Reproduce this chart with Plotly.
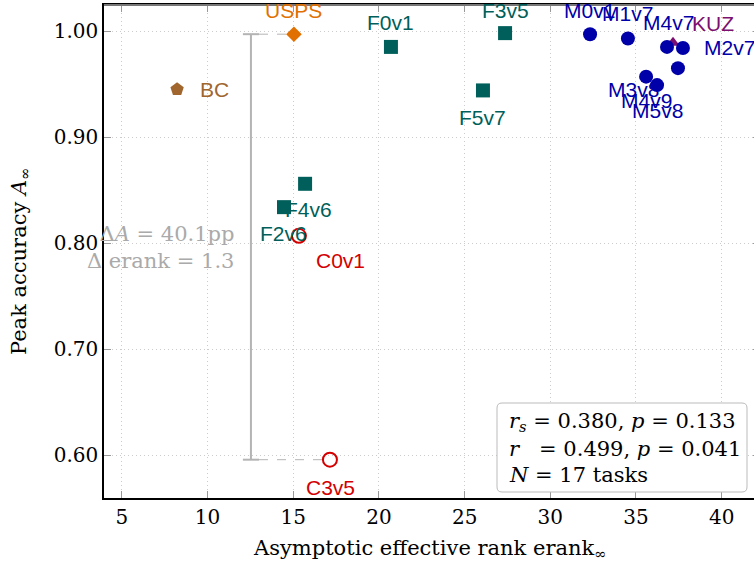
import plotly.graph_objects as go

# ---------------- data ----------------
names = ["BC", "USPS", "F0v1", "F3v5", "F5v7", "F4v6", "F2v6", "C0v1", "C3v5",
         "KUZ", "M0v1", "M1v7", "M4v7", "M2v7", "M5v8", "M3v8", "M4v9"]
erank = [8.22, 15.04, 20.70, 27.36, 26.07, 15.69, 14.46, 15.33, 17.14,
         37.16, 32.32, 34.53, 36.81, 37.74, 36.23, 35.59, 37.45]
acc = [0.945, 0.997, 0.985, 0.998, 0.944, 0.856, 0.834, 0.807, 0.596,
       0.989, 0.997, 0.993, 0.985, 0.984, 0.949, 0.957, 0.965]
group = ["BC", "USPS", "F", "F", "F", "F", "F", "C", "C",
         "KUZ", "M", "M", "M", "M", "M", "M", "M"]

x_ticks = [5, 10, 15, 20, 25, 30, 35, 40]
y_ticks = [0.60, 0.70, 0.80, 0.90, 1.00]

stats_lines = ["<i>r<sub>s</sub></i> = 0.380, <i>p</i> = 0.133",
               "<i>r</i>&nbsp;&nbsp; = 0.499, <i>p</i> = 0.041",
               "<i>N</i> = 17 tasks"]
delta_text = "Δ<i>A</i> = 40.1pp<br>Δ erank = 1.3"
bracket_top, bracket_bot = "USPS", "C3v5"

# ---------------- styles ----------------
styles = {
    "BC":   dict(symbol="pentagon", color="#A0662E", size=14),
    "USPS": dict(symbol="diamond", color="#E07000", size=12),
    "F":    dict(symbol="square", color="#005F5A", size=14),
    "C":    dict(symbol="circle-open", color="#D40000", size=14),
    "KUZ":  dict(symbol="triangle-up", color="#7B1070", size=12),
    "M":    dict(symbol="circle", color="#0000A8", size=14),
}
# label offsets in pixels: (xshift, yshift, xanchor)
label_pos = {
    "BC": (21, 0, "left"), "USPS": (0, 24, "center"), "F0v1": (0, 24, "center"),
    "F3v5": (0, 23, "center"), "F5v7": (0, -27, "center"), "F4v6": (3, -26, "center"),
    "F2v6": (-1, -26, "center"), "C0v1": (42, -25, "center"), "C3v5": (1, -28, "center"),
    "KUZ": (17, 19, "left"), "M0v1": (-1, 24, "center"), "M1v7": (0, 25, "center"),
    "M4v7": (1, 24, "center"), "M2v7": (19, 0, "left"), "M5v8": (0, -25, "center"),
    "M3v8": (-13, -13, "center"), "M4v9": (-31, -32, "center"),
}

SERIF = "DejaVu Serif"
SANS = "Liberation Sans"

W, H = 760, 565
L, R, T, B = 104, 0, 5, 67
pw = W - L - R
ph = H - T - B


def px_x(p):
    return (p - L) / pw


def px_y(p):
    return (H - B - p) / ph


fig = go.Figure()

order = ["BC", "USPS", "F", "C", "KUZ", "M"]
for g in order:
    idx = [i for i, gg in enumerate(group) if gg == g]
    st = styles[g]
    marker = dict(symbol=st["symbol"], color=st["color"], size=st["size"], line=dict(width=0))
    if st["symbol"].endswith("open"):
        marker["line"] = dict(width=2, color=st["color"])
    fig.add_trace(go.Scatter(
        x=[erank[i] for i in idx], y=[acc[i] for i in idx], mode="markers",
        marker=marker, showlegend=False, hoverinfo="skip"))

annotations = []
for i, n in enumerate(names):
    dx, dy, xa = label_pos[n]
    annotations.append(dict(x=erank[i], y=acc[i], xref="x", yref="y", text=n,
                            showarrow=False, xanchor=xa, yanchor="middle",
                            xshift=dx, yshift=dy,
                            font=dict(family=SANS, size=21, color=styles[group[i]]["color"])))

# bracket
it = names.index(bracket_top)
ib = names.index(bracket_bot)
bx = 12.53
cap = 0.47
gray = "#b4b4b4"
shapes = [
    dict(type="line", x0=bx, x1=bx, y0=acc[ib], y1=acc[it], xref="x", yref="y",
         line=dict(color=gray, width=2), layer="below"),
    dict(type="line", x0=bx - cap, x1=bx + cap, y0=acc[it], y1=acc[it], xref="x", yref="y",
         line=dict(color=gray, width=2), layer="below"),
    dict(type="line", x0=bx - cap, x1=bx + cap, y0=acc[ib], y1=acc[ib], xref="x", yref="y",
         line=dict(color=gray, width=2), layer="below"),
    dict(type="line", x0=bx + cap, x1=erank[it], y0=acc[it], y1=acc[it], xref="x", yref="y",
         line=dict(color=gray, width=1, dash="dash"), layer="below"),
    dict(type="line", x0=bx + cap, x1=erank[ib], y0=acc[ib], y1=acc[ib], xref="x", yref="y",
         line=dict(color=gray, width=1, dash="dash"), layer="below"),
    # top spine in gray
    dict(type="line", x0=0, x1=1, y0=1, y1=1, xref="paper", yref="paper",
         line=dict(color="#777777", width=2), layer="above"),
]
annotations.append(dict(x=bx, y=(acc[it] + acc[ib]) / 2, xref="x", yref="y",
                        text=delta_text, showarrow=False, xanchor="right", yanchor="middle",
                        xshift=-15, yshift=-1, align="right",
                        font=dict(family=SERIF, size=21, color="#aaaaaa")))

# stats box: rounded rectangle (pixel box 497..747 x 403..492)
bx0, bx1, by0, by1, rad = 497, 747, 403, 492, 5
path = (f"M {px_x(bx0 + rad)},{px_y(by0)} L {px_x(bx1 - rad)},{px_y(by0)} "
        f"Q {px_x(bx1)},{px_y(by0)} {px_x(bx1)},{px_y(by0 + rad)} "
        f"L {px_x(bx1)},{px_y(by1 - rad)} Q {px_x(bx1)},{px_y(by1)} {px_x(bx1 - rad)},{px_y(by1)} "
        f"L {px_x(bx0 + rad)},{px_y(by1)} Q {px_x(bx0)},{px_y(by1)} {px_x(bx0)},{px_y(by1 - rad)} "
        f"L {px_x(bx0)},{px_y(by0 + rad)} Q {px_x(bx0)},{px_y(by0)} {px_x(bx0 + rad)},{px_y(by0)} Z")
shapes.append(dict(type="path", path=path, xref="paper", yref="paper",
                   line=dict(color="#bbbbbb", width=1), fillcolor="white", layer="above"))
for k, line in enumerate(stats_lines):
    annotations.append(dict(x=px_x(507), y=px_y(422 + 26.5 * k), xref="paper", yref="paper",
                            text=line, showarrow=False, xanchor="left", yanchor="middle",
                            font=dict(family=SERIF, size=21, color="black")))

# axis titles (centred at pixel x 429)
annotations.append(dict(x=px_x(429), y=0, xref="paper", yref="paper",
                        text="Asymptotic effective rank erank<sub>∞</sub>",
                        showarrow=False, xanchor="center", yanchor="middle", yshift=-51,
                        font=dict(family=SERIF, size=21, color="black")))
annotations.append(dict(x=0, y=px_y(262), xref="paper", yref="paper",
                        text="Peak accuracy <i>A</i><sub>∞</sub>", textangle=-90,
                        showarrow=False, xanchor="center", yanchor="middle", xshift=-84,
                        font=dict(family=SERIF, size=21, color="black")))

axis_common = dict(showline=True, linecolor="black", linewidth=1.5, mirror="ticks",
                   ticks="inside", ticklen=7, tickcolor="#999999", tickwidth=1,
                   showgrid=True, gridcolor="#cccccc", griddash="1px,3px", gridwidth=1,
                   zeroline=False, automargin=False,
                   tickfont=dict(family=SERIF, size=20, color="black"))

fig.update_layout(
    width=W, height=H,
    margin=dict(l=L, r=R, t=T, b=B, autoexpand=False),
    plot_bgcolor="white", paper_bgcolor="white",
    xaxis=dict(range=[3.955, 3.955 + pw / 17.136], tickvals=x_ticks,
               ticktext=[str(v) for v in x_ticks], **axis_common),
    yaxis=dict(range=[0.5599, 1.0245], tickvals=y_ticks,
               ticktext=[f"{v:.2f}" for v in y_ticks], **axis_common),
    shapes=shapes, annotations=annotations,
)

fig.write_html("out.html", config={"displayModeBar": False},
               post_script="document.body.style.margin='0';document.body.style.overflow='hidden';")
